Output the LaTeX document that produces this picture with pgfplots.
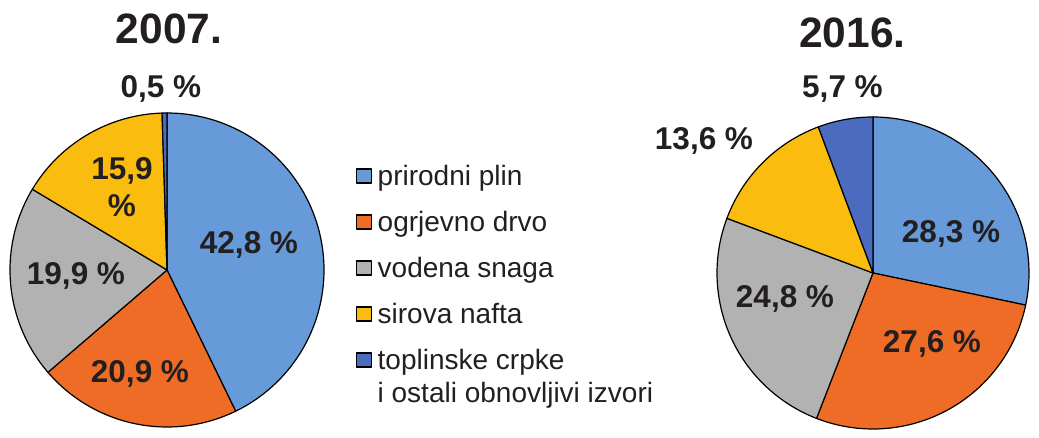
\documentclass[border=0pt]{standalone}
\usepackage{pgfplots}
\pgfplotsset{compat=1.18}
\usepackage{fontspec}
\setmainfont{Liberation Sans}
\definecolor{cBlue}{RGB}{102,154,216}
\definecolor{cOrange}{RGB}{238,108,38}
\definecolor{cGray}{RGB}{178,178,178}
\definecolor{cYellow}{RGB}{250,188,14}
\definecolor{cDark}{RGB}{74,107,190}
\definecolor{cText}{RGB}{35,31,32}
% shares in percent
% 2007: 42.8, 20.9, 19.9, 15.9, 0.5
% 2016: 28.3, 27.6, 24.8, 13.6, 5.7
\newcommand{\ang}[1]{90-3.6*(#1)}
\begin{document}
\begin{tikzpicture}
\begin{axis}[
  at={(0,0)}, anchor=south west,
  width=1039pt, height=438pt, scale only axis,
  xmin=0, xmax=1039, ymin=0, ymax=438,
  hide axis, clip=false,
  legend cell align=left,
  legend image code/.code={\draw[#1,draw=black,line width=1.2pt] (0pt,3pt) rectangle (15pt,17pt);},
  legend style={at={(axis cs:355.5,273)}, anchor=north west, draw=none, fill=none,
    inner sep=0pt, outer sep=0pt, row sep=18pt, column sep=6pt,
    font=\fontsize{28}{33}\selectfont, text=cText,
    cells={anchor=base west},
    nodes={inner sep=0pt, text height=21pt, text depth=7pt}},
  every axis plot/.append style={draw=black, line width=1.2pt, line join=round},
]
% ---- 2007 ----
\addplot[fill=cBlue, domain={\ang{0}}:{\ang{42.8}}, samples=120]
  ({167+157*cos(x)},{168+157*sin(x)}) -- (167,168) -- cycle;
\addplot[fill=cOrange, domain={\ang{42.8}}:{\ang{42.8+20.9}}, samples=80]
  ({167+157*cos(x)},{168+157*sin(x)}) -- (167,168) -- cycle;
\addplot[fill=cGray, domain={\ang{63.7}}:{\ang{63.7+19.9}}, samples=80]
  ({167+157*cos(x)},{168+157*sin(x)}) -- (167,168) -- cycle;
\addplot[fill=cYellow, domain={\ang{83.6}}:{\ang{83.6+15.9}}, samples=70]
  ({167+157*cos(x)},{168+157*sin(x)}) -- (167,168) -- cycle;
\addplot[fill=cDark, domain={\ang{99.5}}:{\ang{99.5+0.5}}, samples=5]
  ({167+157*cos(x)},{168+157*sin(x)}) -- (167,168) -- cycle;
\legend{prirodni plin, ogrjevno drvo, vodena snaga, sirova nafta,
  {\begin{tabular}[t]{@{}l@{}}toplinske crpke\\i ostali obnovljivi izvori\end{tabular}}}
% ---- 2016 ----
\addplot[forget plot, fill=cBlue, domain={\ang{0}}:{\ang{28.3}}, samples=100]
  ({873+156*cos(x)},{165+156*sin(x)}) -- (873,165) -- cycle;
\addplot[forget plot, fill=cOrange, domain={\ang{28.3}}:{\ang{28.3+27.6}}, samples=100]
  ({873+156*cos(x)},{165+156*sin(x)}) -- (873,165) -- cycle;
\addplot[forget plot, fill=cGray, domain={\ang{55.9}}:{\ang{55.9+24.8}}, samples=100]
  ({873+156*cos(x)},{165+156*sin(x)}) -- (873,165) -- cycle;
\addplot[forget plot, fill=cYellow, domain={\ang{80.7}}:{\ang{80.7+13.6}}, samples=60]
  ({873+156*cos(x)},{165+156*sin(x)}) -- (873,165) -- cycle;
\addplot[forget plot, fill=cDark, domain={\ang{94.3}}:{\ang{94.3+5.7}}, samples=30]
  ({873+156*cos(x)},{165+156*sin(x)}) -- (873,165) -- cycle;
% ---- labels ----
\begin{scope}[every node/.style={anchor=base, inner sep=0pt, text=cText, font=\bfseries\fontsize{31.5}{37}\selectfont}]
\node[font=\bfseries\fontsize{42.5}{48}\selectfont] at (axis cs:169,394) {2007.};
\node[font=\bfseries\fontsize{42.5}{48}\selectfont] at (axis cs:852.5,390) {2016.};
\node at (axis cs:161,340) {0,5 \%};
\node at (axis cs:122,258) {15,9};
\node at (axis cs:122,221) {\%};
\node at (axis cs:249,184) {42,8 \%};
\node at (axis cs:76,153) {19,9 \%};
\node at (axis cs:140,55) {20,9 \%};
\node at (axis cs:842.5,340) {5,7 \%};
\node at (axis cs:704,288) {13,6 \%};
\node at (axis cs:951,195) {28,3 \%};
\node at (axis cs:785,130) {24,8 \%};
\node at (axis cs:932,85) {27,6 \%};
\end{scope}
\end{axis}
\pgfresetboundingbox
\useasboundingbox (0,0) rectangle (1039pt,438pt);
\end{tikzpicture}
\end{document}
